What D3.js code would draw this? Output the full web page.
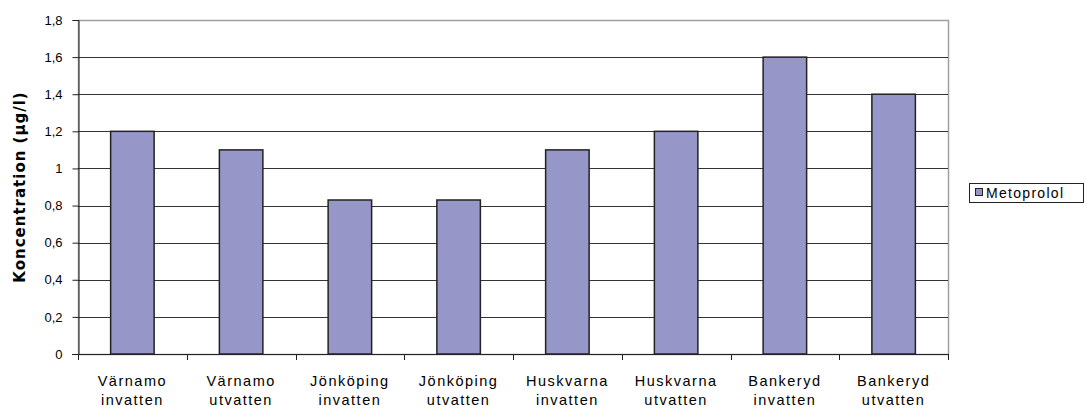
<!DOCTYPE html>
<html>
<head>
<meta charset="utf-8">
<script src="https://cdn.jsdelivr.net/npm/d3@7"></script>
<style>
  body { margin: 0; background: #fff; }
  svg { display: block; font-family: "Liberation Sans", Arial, sans-serif; }
</style>
</head>
<body>
<svg id="chart" width="1091" height="411"></svg>
<script>
// Data
var places = ["Värnamo", "Värnamo", "Jönköping", "Jönköping", "Huskvarna", "Huskvarna", "Bankeryd", "Bankeryd"];
var kinds = ["invatten", "utvatten", "invatten", "utvatten", "invatten", "utvatten", "invatten", "utvatten"];
var metoprolol = [1.2, 1.1, 0.83, 0.83, 1.1, 1.2, 1.6, 1.4];
var yTicks = [0, 0.2, 0.4, 0.6, 0.8, 1, 1.2, 1.4, 1.6, 1.8];
var seriesName = "Metoprolol";

(function() {
var svg = d3.select("#chart");
var pLeft = 78, pRight = 948, pTop = 20, pBottom = 354;

var x = d3.scaleBand()
    .domain(d3.range(places.length))
    .range([pLeft, pRight])
    .paddingInner(0.6)
    .paddingOuter(0.3);

var xCat = d3.scaleBand()
    .domain(d3.range(places.length))
    .range([pLeft, pRight]);

var y = d3.scaleLinear()
    .domain([0, 1.8])
    .range([pBottom, pTop]);

var fmt = function(d) { return String(d).replace(".", ","); };

// Plot area border (gray, top/right)
svg.append("rect")
    .attr("x", pLeft + 0.5).attr("y", pTop + 0.5)
    .attr("width", pRight - pLeft).attr("height", pBottom - pTop)
    .attr("fill", "none").attr("stroke", "#a0a0a0").attr("stroke-width", 1.5);

// Gridlines
svg.append("g").selectAll("line")
    .data(yTicks.filter(function(d) { return d > 0 && d < 1.8; }))
    .enter().append("line")
    .attr("x1", pLeft).attr("x2", pRight)
    .attr("y1", function(d) { return Math.round(y(d)) + 0.5; })
    .attr("y2", function(d) { return Math.round(y(d)) + 0.5; })
    .attr("stroke", "#333").attr("stroke-width", 1);

// Bars
svg.append("g").selectAll("rect")
    .data(metoprolol)
    .enter().append("rect")
    .attr("x", function(d, i) { return x(i); })
    .attr("y", function(d) { return y(d); })
    .attr("width", x.bandwidth())
    .attr("height", function(d) { return pBottom - y(d); })
    .attr("fill", "#9696c8")
    .attr("stroke", "#222").attr("stroke-width", 1.5);

// Y axis
var yAxis = svg.append("g")
    .attr("transform", "translate(" + (pLeft + 0.5) + ",0)")
    .call(d3.axisLeft(y).tickValues(yTicks).tickSize(6).tickPadding(10).tickFormat(fmt));
yAxis.attr("font-family", null).attr("font-size", null);
yAxis.select(".domain").attr("stroke", "#222");
yAxis.selectAll(".tick line").attr("stroke", "#222");
yAxis.selectAll(".tick text").style("font-size", "13px").attr("fill", "#000");

// X axis line + ticks between categories
var xAxis = svg.append("g");
xAxis.append("line")
    .attr("x1", pLeft - 6).attr("x2", pRight)
    .attr("y1", pBottom + 0.5).attr("y2", pBottom + 0.5)
    .attr("stroke", "#222");
xAxis.selectAll(".xt")
    .data(d3.range(places.length + 1))
    .enter().append("line")
    .attr("x1", function(i) { return Math.round(pLeft + i * xCat.bandwidth()) + 0.5; })
    .attr("x2", function(i) { return Math.round(pLeft + i * xCat.bandwidth()) + 0.5; })
    .attr("y1", pBottom).attr("y2", pBottom + 6)
    .attr("stroke", "#222");

var labels = xAxis.selectAll(".xl")
    .data(places)
    .enter().append("text")
    .attr("text-anchor", "middle")
    .style("font-size", "14.5px")
    .attr("letter-spacing", 1.5)
    .attr("fill", "#000");
labels.append("tspan")
    .attr("x", function(d, i) { return xCat(i) + xCat.bandwidth() / 2; })
    .attr("y", 386)
    .text(function(d) { return d; });
labels.append("tspan")
    .attr("x", function(d, i) { return xCat(i) + xCat.bandwidth() / 2; })
    .attr("y", 405)
    .text(function(d, i) { return kinds[i]; });

// Y axis title
svg.append("text")
    .attr("transform", "translate(25," + 187 + ") rotate(-90)")
    .attr("text-anchor", "middle")
    .style("font-family", "'DejaVu Sans', Verdana, sans-serif")
    .style("font-weight", "bold")
    .style("font-size", "15px")
    .attr("letter-spacing", 1)
    .text("Koncentration (µg/l)");

// Legend
var legend = svg.append("g").attr("transform", "translate(969,183)");
legend.append("rect")
    .attr("x", 0.5).attr("y", 0.5).attr("width", 114).attr("height", 19)
    .attr("fill", "#fff").attr("stroke", "#222");
legend.append("rect")
    .attr("x", 6.5).attr("y", 5.5).attr("width", 7).attr("height", 7)
    .attr("fill", "#9696c8").attr("stroke", "#222");
legend.append("text")
    .attr("x", 17).attr("y", 15)
    .style("font-size", "14px")
    .attr("letter-spacing", 1.3)
    .text(seriesName);
})();
</script>
</body>
</html>
